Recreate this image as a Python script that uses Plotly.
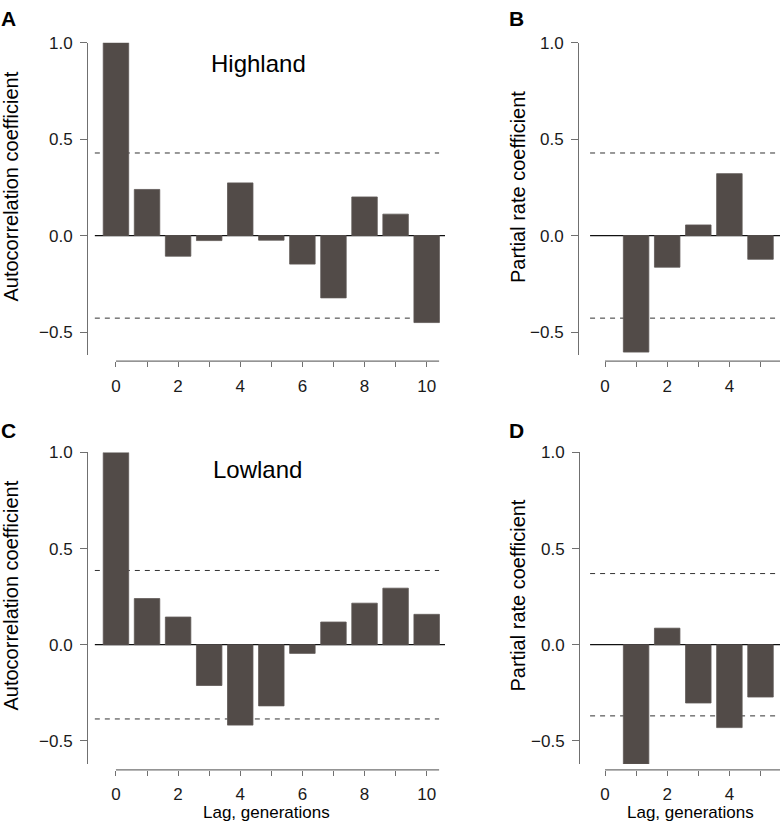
import plotly.graph_objects as go

# ---------------- data ----------------
lags_acf = [0, 1, 2, 3, 4, 5, 6, 7, 8, 9, 10]
lags_pacf = [1, 2, 3, 4, 5]
highland_acf = [1.0, 0.239, -0.107, -0.026, 0.273, -0.024, -0.148, -0.323, 0.200, 0.111, -0.451]
highland_pacf = [-0.604, -0.164, 0.055, 0.321, -0.123]
lowland_acf = [1.0, 0.240, 0.144, -0.212, -0.418, -0.318, -0.045, 0.118, 0.216, 0.294, 0.158]
lowland_pacf = [-0.62, 0.086, -0.303, -0.431, -0.272]
conf_limits = {"A": 0.428, "B": 0.428, "C": 0.386, "D": 0.370}
y_tickvals = [-0.5, 0.0, 0.5, 1.0]
y_ticktext = ["\u22120.5", "0.0", "0.5", "1.0"]
acf_xticktext = ["0", "", "2", "", "4", "", "6", "", "8", "", "10"]
pacf_xtickvals = [0, 1, 2, 3, 4, 5]
pacf_xticktext = ["0", "", "2", "", "4", ""]
panel_letters = ["A", "B", "C", "D"]
site_names = ["Highland", "Lowland"]
y_titles = ["Autocorrelation coefficient", "Partial rate coefficient"]
x_title = "Lag, generations"

W, H = 780, 824
FONT = "Arial, 'Liberation Sans', Helvetica, sans-serif"
BAR = "#524b48"
AXC = "#707070"

def px(x):
    return x / W

def py(y):
    return 1 - y / H

fig = go.Figure()

panels = [
    dict(k="A", xd=(88, 445), xr=[-0.9, 10.59], yd=(34, 350), xa=356, x=lags_acf, y=highland_acf,
         tv=lags_acf, tt=acf_xticktext, h0=-0.68, d1=10.4, ax1=10.4),
    dict(k="B", xd=(579, 780), xr=[-0.836, 5.627], yd=(34, 350), xa=356, x=lags_pacf, y=highland_pacf,
         tv=pacf_xtickvals, tt=pacf_xticktext, h0=-0.48, d1=5.627, ax1=5.627),
    dict(k="C", xd=(88, 445), xr=[-0.9, 10.59], yd=(448.3, 763.3), xa=769.3, x=lags_acf, y=lowland_acf,
         tv=lags_acf, tt=acf_xticktext, h0=-0.68, d1=10.4, ax1=10.4),
    dict(k="D", xd=(580, 780), xr=[-0.804, 5.627], yd=(448.3, 763.3), xa=769.3, x=lags_pacf, y=lowland_pacf,
         tv=pacf_xtickvals, tt=pacf_xticktext, h0=-0.48, d1=5.627, ax1=5.627),
]

shapes = []
for i, p in enumerate(panels):
    n = "" if i == 0 else str(i + 1)
    xa, ya = "x" + n, "y" + n
    fig.add_trace(go.Bar(
        x=p["x"], y=p["y"], xaxis=xa, yaxis=ya, width=0.82,
        marker=dict(color=BAR, line=dict(color="#5e5856", width=0.8)),
        cliponaxis=False, showlegend=False, hoverinfo="x+y",
    ))
    lim = conf_limits[p["k"]]
    fig.layout["xaxis" + n] = dict(
        domain=[px(p["xd"][0]), px(p["xd"][1])], range=p["xr"], anchor="free",
        position=py(p["xa"]), showline=False, showgrid=False, zeroline=False,
        ticks="outside", ticklen=5, tickwidth=1, tickcolor=AXC,
        tickvals=p["tv"], ticktext=p["tt"], ticklabelstandoff=4,
        tickfont=dict(family=FONT, size=17, color="#1a1a1a"), fixedrange=True,
    )
    fig.layout["yaxis" + n] = dict(
        domain=[py(p["yd"][1]), py(p["yd"][0])], range=[-0.62, 1.0], anchor=xa,
        showline=True, linecolor=AXC, linewidth=1, showgrid=False, zeroline=False,
        ticks="outside", ticklen=7, tickwidth=1, tickcolor=AXC,
        tickvals=y_tickvals, ticktext=y_ticktext, ticklabelstandoff=4,
        tickfont=dict(family=FONT, size=17, color="#1a1a1a"), fixedrange=True,
    )
    shapes.append(dict(type="line", xref=xa, yref="paper", x0=0, x1=p["ax1"],
                       y0=py(p["xa"]), y1=py(p["xa"]), line=dict(color=AXC, width=1.2)))
    shapes.append(dict(type="line", xref=xa, yref=ya, x0=p["h0"], x1=p["xr"][1], y0=0, y1=0,
                       line=dict(color="#111111", width=1.2), layer="below"))
    for s in (lim, -lim):
        shapes.append(dict(type="line", xref=xa, yref=ya, x0=p["h0"], x1=p["d1"], y0=s, y1=s,
                           line=dict(color="#333333", width=1, dash="5px,5px"), layer="below"))

annotations = []
for letter, (cx, cy) in zip(panel_letters, [(8.5, 10), (516.5, 10), (8.5, 426.5), (516.5, 426.5)]):
    annotations.append(dict(text="<b>%s</b>" % letter, x=px(cx), y=py(cy), xref="paper", yref="paper",
                            showarrow=False, xanchor="center", yanchor="middle",
                            font=dict(family=FONT, size=21, color="#000000")))
for name, (cx, cy) in zip(site_names, [(258, 55), (257.5, 466)]):
    annotations.append(dict(text=name, x=px(cx), y=py(cy), xref="paper", yref="paper",
                            showarrow=False, xanchor="center", yanchor="middle",
                            font=dict(family=FONT, size=24, color="#000000")))
for t, (cx, cy) in zip([y_titles[0], y_titles[1], y_titles[0], y_titles[1]],
                       [(11, 179.5), (518, 180), (11, 593), (518, 593)]):
    annotations.append(dict(text=t, x=px(cx), y=py(cy), xref="paper", yref="paper", textangle=-90,
                            showarrow=False, xanchor="center", yanchor="middle",
                            font=dict(family=FONT, size=20, color="#000000")))
for cx in (266, 690.7):
    annotations.append(dict(text=x_title, x=px(cx), y=0, xref="paper", yref="paper",
                            showarrow=False, xanchor="center", yanchor="bottom",
                            font=dict(family=FONT, size=17, color="#000000")))

fig.update_layout(
    width=W, height=H, margin=dict(l=0, r=0, t=0, b=0),
    paper_bgcolor="white", plot_bgcolor="white",
    shapes=shapes, annotations=annotations, bargap=0, showlegend=False,
)

fig.write_html(
    "out.html",
    config={"displayModeBar": False, "staticPlot": True},
    post_script=(
        "document.body.style.margin='0';document.body.style.padding='0';"
        "document.documentElement.style.overflow='hidden';"
        "var gd=document.getElementById('{plot_id}');"
        "gd.style.position='fixed';gd.style.top='0px';gd.style.left='0px';"
    ),
)
